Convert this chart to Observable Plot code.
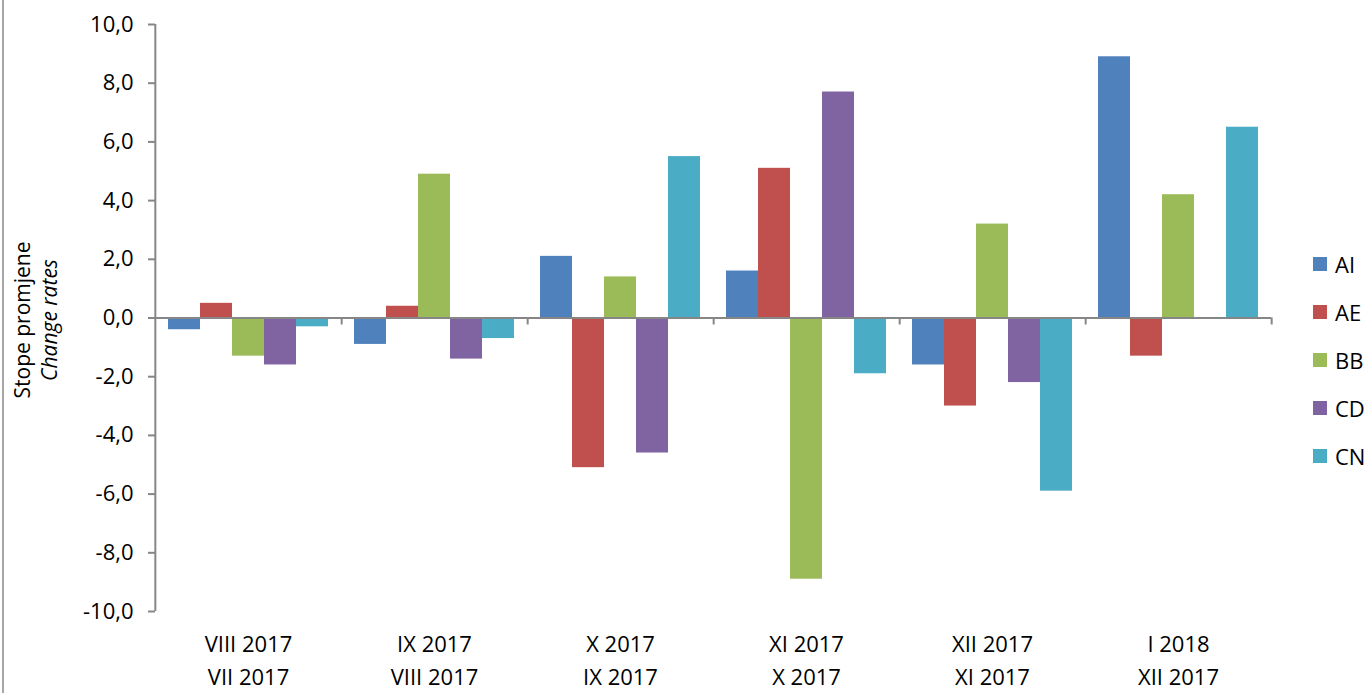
<!DOCTYPE html>
<html>
<head>
<meta charset="utf-8">
<script src="https://cdn.jsdelivr.net/npm/d3@7"></script>
<script src="https://cdn.jsdelivr.net/npm/@observablehq/plot@0.6"></script>
<style>
  html, body { margin: 0; padding: 0; background: #fff; }
  #wrap { position: relative; width: 1368px; height: 693px; overflow: hidden; font-family: "Open Sans", sans-serif; }
  #border { position: absolute; left: 2px; top: 0; width: 2px; height: 693px; background: #a6a6a6; }
  #ylabel { position: absolute; left: 36px; top: 320px; transform: translate(-50%, -50%) rotate(-90deg); font-size: 21px; line-height: 27px; text-align: center; white-space: nowrap; color: #000; }
  #legend { position: absolute; left: 1313px; top: 240px; font-size: 22px; color: #000; }
  .li { display: flex; align-items: center; height: 48px; }
  .sw { width: 14px; height: 14px; margin-right: 8px; }
</style>
</head>
<body>
<div id="wrap">
  <div id="chart"></div>
  <div id="border"></div>
  <div id="ylabel">Stope promjene<br><i>Change rates</i></div>
  <div id="legend"></div>
</div>
<script>
const categories = ["VIII 2017\nVII 2017", "IX 2017\nVIII 2017", "X 2017\nIX 2017", "XI 2017\nX 2017", "XII 2017\nXI 2017", "I 2018\nXII 2017"];
const series = ["AI", "AE", "BB", "CD", "CN"];
const colors = ["#4F81BD", "#C0504D", "#9BBB59", "#8064A2", "#4BACC6"];
const AI = [-0.4, -0.9, 2.1, 1.6, -1.6, 8.9];
const AE = [0.5, 0.4, -5.1, 5.1, -3.0, -1.3];
const BB = [-1.3, 4.9, 1.4, -8.9, 3.2, 4.2];
const CD = [-1.6, -1.4, -4.6, 7.7, -2.2, 0];
const CN = [-0.3, -0.7, 5.5, -1.9, -5.9, 6.5];
const yTicks = [-10, -8, -6, -4, -2, 0, 2, 4, 6, 8, 10];

const valuesBySeries = {AI, AE, BB, CD, CN};
const rows = [];
categories.forEach((c, i) => series.forEach(s => rows.push({cat: c, series: s, value: valuesBySeries[s][i]})));

const W = 1368, H = 693, mL = 154, mR = 96, mT = 24, mB = 82;
const step = (W - mL - mR) / categories.length;
const axisGray = "#868686";
const fmt = d => d.toFixed(1).replace(".", ",");

const chart = Plot.plot({
  width: W, height: H,
  marginLeft: mL, marginRight: mR, marginTop: mT, marginBottom: mB,
  style: {fontFamily: "'Open Sans', sans-serif", fontSize: "22px", color: "#000", background: "transparent"},
  fx: {domain: categories, padding: 0, label: null},
  x: {domain: series, paddingInner: 0, paddingOuter: 0.34, axis: null},
  y: {domain: [-10, 10], label: null},
  color: {domain: series, range: colors},
  marks: [
    Plot.barY(rows, {fx: "cat", x: "series", y: "value", fill: "series"}),
    Plot.ruleY([0], {stroke: axisGray, strokeWidth: 2}),
    Plot.ruleX(categories, {fx: d => d, x: null, y1: 0, y2: 0, insetBottom: -7, dx: step / 2, stroke: axisGray, strokeWidth: 2}),
    Plot.ruleX([categories[0]], {fx: d => d, x: null, y1: -10, y2: 10, dx: -step / 2, stroke: axisGray, strokeWidth: 2}),
    Plot.axisY({ticks: yTicks, tickFormat: fmt, tickSize: 7, tickPadding: 15, fontSize: 22, stroke: axisGray, strokeWidth: 2, fill: "#000", label: null}),
    Plot.axisFx({anchor: "bottom", tickSize: 0, tickPadding: 17, fontSize: 22, lineHeight: 1.5, fill: "#000", label: null, tickFormat: d => d})
  ]
});
document.getElementById("chart").appendChild(chart);

const legend = document.getElementById("legend");
series.forEach((s, i) => {
  const row = document.createElement("div");
  row.className = "li";
  row.innerHTML = `<span class="sw" style="background:${colors[i]}"></span><span>${s}</span>`;
  legend.appendChild(row);
});
</script>
</body>
</html>
